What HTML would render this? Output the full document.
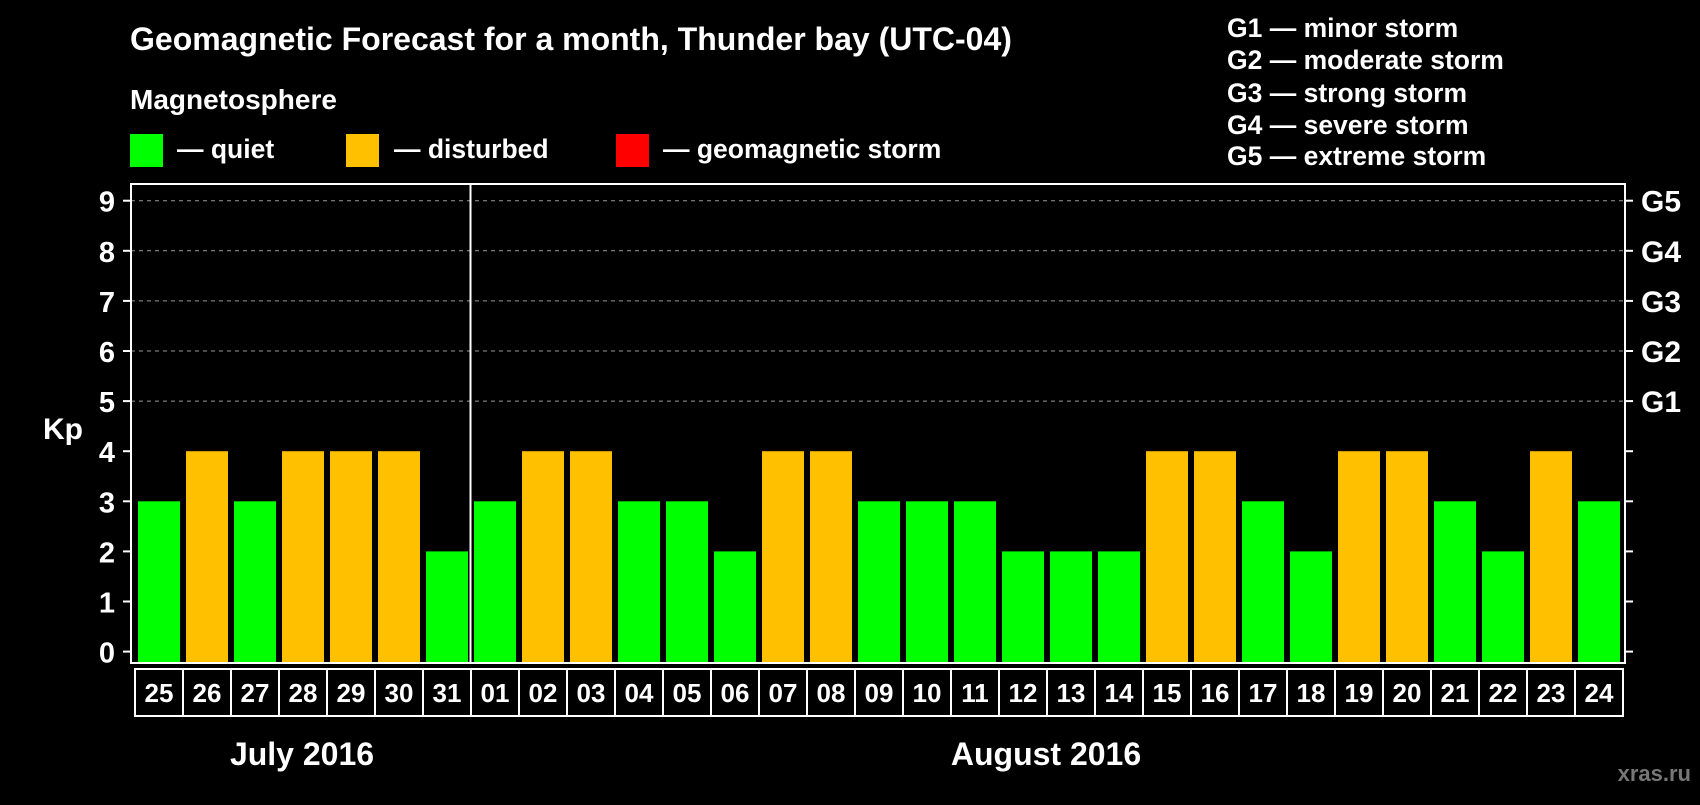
<!DOCTYPE html>
<html><head><meta charset="utf-8"><style>
body{margin:0;background:#000;width:1700px;height:800px;overflow:hidden;font-family:"Liberation Sans",sans-serif;font-weight:bold;color:#fff}
</style></head><body>
<svg id="c" width="1700" height="800" xmlns="http://www.w3.org/2000/svg" style="font-family:'Liberation Sans',sans-serif;font-weight:bold">
<text x="130" y="50" font-size="32" fill="#fff">Geomagnetic Forecast for a month, Thunder bay (UTC-04)</text>
<text x="130" y="109" font-size="28" fill="#fff">Magnetosphere</text>
<rect x="130" y="134" width="33" height="33" fill="#00ff00"/>
<text x="177" y="158" font-size="26.5" fill="#fff">— quiet</text>
<rect x="346" y="134" width="33" height="33" fill="#ffc000"/>
<text x="394" y="158" font-size="26.5" fill="#fff">— disturbed</text>
<rect x="616" y="134" width="33" height="33" fill="#ff0000"/>
<text x="663" y="158" font-size="26.5" fill="#fff">— geomagnetic storm</text>
<g font-size="26.5" fill="#fff">
<text x="1227" y="37">G1 — minor storm</text>
<text x="1227" y="69">G2 — moderate storm</text>
<text x="1227" y="102">G3 — strong storm</text>
<text x="1227" y="134">G4 — severe storm</text>
<text x="1227" y="165">G5 — extreme storm</text>
</g>
<text x="43" y="439" font-size="30" fill="#fff">Kp</text>
<g id="grid"></g><g id="bars"></g><g id="axes"></g>
<text x="302" y="765" font-size="32" fill="#fff" text-anchor="middle">July 2016</text>
<text x="1046" y="765" font-size="32" fill="#fff" text-anchor="middle">August 2016</text>
<text x="1691" y="781" font-size="22" fill="#777" text-anchor="end">xras.ru</text>
</svg>
<script>
const days=["25","26","27","28","29","30","31","01","02","03","04","05","06","07","08","09","10","11","12","13","14","15","16","17","18","19","20","21","22","23","24"];
const kp=[3,4,3,4,4,4,2,3,4,4,3,3,2,4,4,3,3,3,2,2,2,4,4,3,2,4,4,3,2,4,3];
const yTicks=[0,1,2,3,4,5,6,7,8,9];
const gLabels=["G1","G2","G3","G4","G5"];
const gLevels=[5,6,7,8,9];
const NS="http://www.w3.org/2000/svg";
const L=131,R=1625,T=184,B=663,X0=135,STEP=48;
function yS(v){return 651.6-v*50.1;}
function xS(i){return X0+i*STEP;}
function mk(tag,attrs,parent){const e=document.createElementNS(NS,tag);for(const k in attrs)e.setAttribute(k,attrs[k]);parent.appendChild(e);return e;}
const grid=document.getElementById('grid'),bars=document.getElementById('bars'),axes=document.getElementById('axes');
gLevels.forEach(v=>{const l=mk('line',{x1:L,x2:R,y1:yS(v),y2:yS(v),stroke:'#999','stroke-dasharray':'4,4','stroke-width':1},grid);

});
kp.forEach((v,i)=>{const r=mk('rect',{x:xS(i)+3,y:yS(v),width:42,height:B-yS(v),fill:v>=5?'#ff0000':(v>=4?'#ffc000':'#00ff00')},bars);

});
const frame=mk('rect',{x:L,y:T,width:R-L,height:B-T,fill:'none',stroke:'#fff','stroke-width':2},axes);


const div=mk('line',{x1:xS(7)-0.5,x2:xS(7)-0.5,y1:T,y2:B,stroke:'#fff','stroke-width':2},axes);


yTicks.forEach(v=>{mk('line',{x1:L-8,x2:L,y1:yS(v),y2:yS(v),stroke:'#fff','stroke-width':2},axes);
mk('line',{x1:R,x2:R+8,y1:yS(v),y2:yS(v),stroke:'#fff','stroke-width':2},axes);
const t=mk('text',{x:115,y:yS(v)+11,'font-size':29,fill:'#fff','text-anchor':'end'},axes);t.textContent=v;

});
gLabels.forEach((g,i)=>{const t=mk('text',{x:1641,y:yS(gLevels[i])+11,'font-size':30,fill:'#fff'},axes);t.textContent=g;

});
days.forEach((d,i)=>{const r=mk('rect',{x:xS(i),y:669,width:STEP,height:47,fill:'none',stroke:'#fff','stroke-width':2},axes);


const t=mk('text',{x:xS(i)+STEP/2,y:702,'font-size':26,fill:'#fff','text-anchor':'middle'},axes);t.textContent=d;

});
</script>
</body></html>
